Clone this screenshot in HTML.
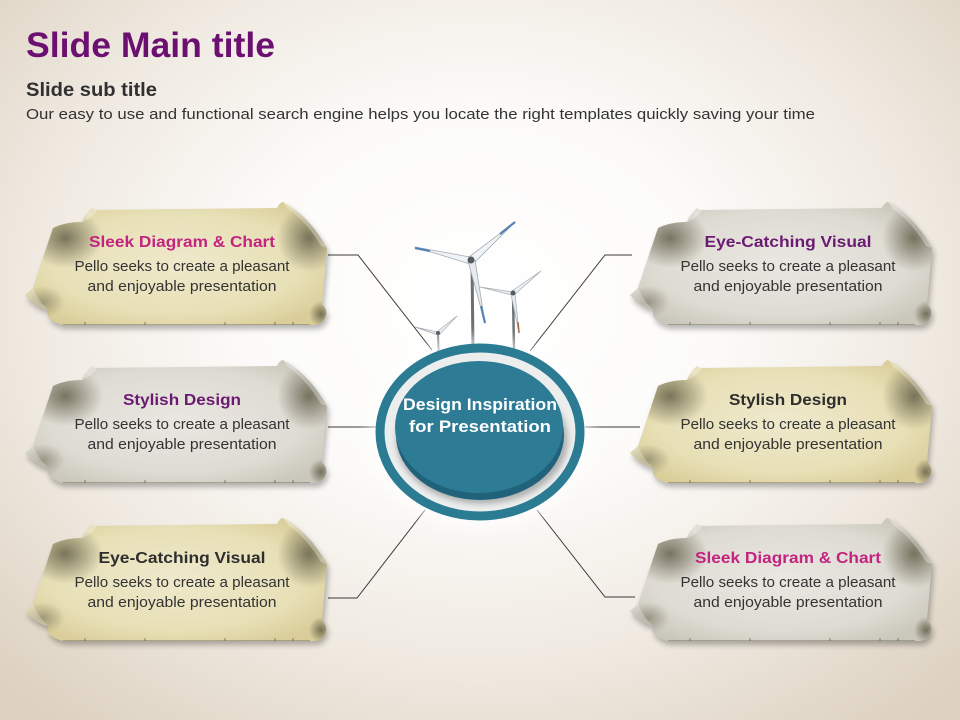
<!DOCTYPE html>
<html><head><meta charset="utf-8"><style>
html,body{margin:0;padding:0;}
body{width:960px;height:720px;overflow:hidden;background:radial-gradient(ellipse 70% 75% at 50% 42%,#ffffff 0%,#fcfbf9 35%,#efe9e0 68%,#ddd1c0 100%);}
svg{display:block;}
text{font-family:"Liberation Sans",sans-serif;}
</style></head><body>
<svg width="960" height="720" viewBox="0 0 960 720" xmlns="http://www.w3.org/2000/svg">
<defs>
  <path id="sc" d="M70,8 L252,6 Q255,0 258,0 Q284,14 302,46 L297,102 Q305,110 298,119 Q294,124 285,123 L38,123 Q26,120 23,114 L23,108 Q10,105 0,93 L8,86 L28,26 Q40,20 57,20 Q60,12 67,6 Z"/>
  <clipPath id="scClip"><use href="#sc"/></clipPath>
  <radialGradient id="yel" cx="50%" cy="50%" r="60%">
    <stop offset="0" stop-color="#efe9cc"/><stop offset="0.7" stop-color="#e7dfb5"/><stop offset="1" stop-color="#d9cd99"/>
  </radialGradient>
  <radialGradient id="gry" cx="50%" cy="50%" r="60%">
    <stop offset="0" stop-color="#e9e7e1"/><stop offset="0.7" stop-color="#dedbd3"/><stop offset="1" stop-color="#cac7bb"/>
  </radialGradient>
  <radialGradient id="shd" cx="50%" cy="50%" r="50%">
    <stop offset="0" stop-color="#5e5a44" stop-opacity="0.8"/><stop offset="1" stop-color="#5e5a44" stop-opacity="0"/>
  </radialGradient>
  <filter id="blur" x="-20%" y="-20%" width="140%" height="160%"><feGaussianBlur stdDeviation="3"/></filter>
  <filter id="blur2" x="-30%" y="-30%" width="160%" height="160%"><feGaussianBlur stdDeviation="6"/></filter>
  <g id="scrollBase">
    <use href="#sc" transform="translate(2,4)" fill="#000" opacity="0.28" filter="url(#blur)"/>
  </g>
  <g id="scrollShade">
    <g clip-path="url(#scClip)">
      <ellipse cx="40" cy="36" rx="38" ry="30" fill="url(#shd)"/>
      <ellipse cx="284" cy="36" rx="32" ry="34" fill="url(#shd)"/>
      <ellipse cx="18" cy="100" rx="22" ry="16" fill="url(#shd)" opacity="0.6"/>
      <ellipse cx="296" cy="112" rx="12" ry="13" fill="url(#shd)"/>
      <path d="M38,123 L285,123" stroke="#6e6a55" stroke-width="1.6" opacity="0.6"/>
    </g>
    <path d="M67,6 Q60,12 57,20 Q64,18 72,9 Z" fill="#fff" opacity="0.3"/>
    <path d="M258,0 Q284,14 302,46 L296,44 Q282,20 262,6 Z" fill="#fff" opacity="0.3"/>
    <path d="M0,93 L8,86 Q14,100 23,108 Q10,105 0,93 Z" fill="#fff" opacity="0.25"/>
    <path d="M60,123 l0,-3 M120,123 l0,-3 M200,123 l0,-3 M250,123 l0,-3 M268,123 l0,-3" stroke="#5e5a44" stroke-width="1" opacity="0.7"/>
  </g>
</defs>

<!-- Title area -->
<text x="26" y="57" font-size="35" font-weight="bold" fill="#6b0f70" textLength="249" lengthAdjust="spacingAndGlyphs">Slide Main title</text>
<text x="26" y="96" font-size="19" font-weight="bold" fill="#303030" textLength="131" lengthAdjust="spacingAndGlyphs">Slide sub title</text>
<text x="26" y="119" font-size="15" fill="#333" textLength="789" lengthAdjust="spacingAndGlyphs">Our easy to use and functional search engine helps you locate the right templates quickly saving your time</text>

<!-- connectors -->
<g stroke="#3a3a3a" stroke-width="1" fill="none">
  <polyline points="328,255 358,255 432,350"/>
  <polyline points="632,255 605,255 530,351"/>
  <polyline points="328,427 378,427"/>
  <polyline points="585,427 640,427"/>
  <polyline points="328,598 357,598 425,510"/>
  <polyline points="635,597 605,597 537,510"/>
</g>

<!-- turbines -->
<g stroke-linejoin="round">
  <line x1="438" y1="333" x2="439" y2="365" stroke="#8a8f94" stroke-width="2"/>
  <polygon points="438,331 457,316 439,335" fill="#eef1f4" stroke="#a4abb2" stroke-width="0.7"/>
  <polygon points="437,332 415,327 438,335" fill="#eef1f4" stroke="#a4abb2" stroke-width="0.7"/>
  <line x1="513" y1="293" x2="514" y2="350" stroke="#6f7479" stroke-width="2.5"/>
  <polygon points="512,291 541,271 514,295" fill="#eef1f4" stroke="#a4abb2" stroke-width="0.7"/>
  <polygon points="512,292 480,287 512,295" fill="#eef1f4" stroke="#a4abb2" stroke-width="0.7"/>
  <polygon points="511,294 519,333 515,293" fill="#e6eaee" stroke="#a4abb2" stroke-width="0.7"/>
  <line x1="518" y1="322" x2="519" y2="333" stroke="#a0684a" stroke-width="1.5"/>
  <line x1="472" y1="262" x2="473" y2="350" stroke="#6a6f74" stroke-width="3"/>
  <polygon points="469,257 515,222 474,263" fill="#f1f4f7" stroke="#a4abb2" stroke-width="0.8"/>
  <line x1="500" y1="234" x2="515" y2="222" stroke="#5584b3" stroke-width="2.2"/>
  <polygon points="470,257 415,247 470,264" fill="#f1f4f7" stroke="#a4abb2" stroke-width="0.8"/>
  <line x1="415" y1="248" x2="430" y2="251" stroke="#5584b3" stroke-width="2.2"/>
  <polygon points="468,261 485,323 475,260" fill="#e6ebf0" stroke="#a4abb2" stroke-width="0.8"/>
  <line x1="481" y1="306" x2="485" y2="323" stroke="#5584b3" stroke-width="2.2"/>
  <circle cx="471" cy="260" r="3.5" fill="#555a60"/>
  <circle cx="513" cy="293" r="2.5" fill="#555a60"/>
  <circle cx="438" cy="333" r="2" fill="#555a60"/>
</g>

<!-- center -->
<ellipse cx="480" cy="433" rx="112" ry="97" fill="#ffffff" opacity="0.6" filter="url(#blur2)"/>
<ellipse cx="480" cy="432" rx="100" ry="84" fill="#eceeee" stroke="#2b7b93" stroke-width="9"/>
<ellipse cx="482" cy="440" rx="86" ry="64" fill="#000" opacity="0.25" filter="url(#blur)"/>
<ellipse cx="480" cy="435" rx="84" ry="65" fill="#20627a"/>
<ellipse cx="479" cy="427" rx="84" ry="66" fill="#2d7b94"/>
<text x="480" y="410" font-size="16.5" font-weight="bold" fill="#ffffff" text-anchor="middle" textLength="154" lengthAdjust="spacingAndGlyphs">Design Inspiration</text>
<text x="480" y="432" font-size="16.5" font-weight="bold" fill="#ffffff" text-anchor="middle" textLength="142" lengthAdjust="spacingAndGlyphs">for Presentation</text>

<!-- scrolls -->
<g transform="translate(25,202)">
  <use href="#scrollBase"/><use href="#sc" fill="url(#yel)"/><use href="#scrollShade"/>
  <text x="157" y="45" font-size="16" font-weight="bold" fill="#c4237f" text-anchor="middle" textLength="186" lengthAdjust="spacingAndGlyphs">Sleek Diagram &amp; Chart</text>
  <text x="157" y="69" font-size="15" fill="#333" text-anchor="middle" textLength="215" lengthAdjust="spacingAndGlyphs">Pello seeks to create a pleasant</text>
  <text x="157" y="89" font-size="15" fill="#333" text-anchor="middle" textLength="189" lengthAdjust="spacingAndGlyphs">and enjoyable presentation</text>
</g>
<g transform="translate(25,360)">
  <use href="#scrollBase"/><use href="#sc" fill="url(#gry)"/><use href="#scrollShade"/>
  <text x="157" y="45" font-size="16" font-weight="bold" fill="#6b1a72" text-anchor="middle" textLength="118" lengthAdjust="spacingAndGlyphs">Stylish Design</text>
  <text x="157" y="69" font-size="15" fill="#333" text-anchor="middle" textLength="215" lengthAdjust="spacingAndGlyphs">Pello seeks to create a pleasant</text>
  <text x="157" y="89" font-size="15" fill="#333" text-anchor="middle" textLength="189" lengthAdjust="spacingAndGlyphs">and enjoyable presentation</text>
</g>
<g transform="translate(25,518)">
  <use href="#scrollBase"/><use href="#sc" fill="url(#yel)"/><use href="#scrollShade"/>
  <text x="157" y="45" font-size="16" font-weight="bold" fill="#2e2e2e" text-anchor="middle" textLength="167" lengthAdjust="spacingAndGlyphs">Eye-Catching Visual</text>
  <text x="157" y="69" font-size="15" fill="#333" text-anchor="middle" textLength="215" lengthAdjust="spacingAndGlyphs">Pello seeks to create a pleasant</text>
  <text x="157" y="89" font-size="15" fill="#333" text-anchor="middle" textLength="189" lengthAdjust="spacingAndGlyphs">and enjoyable presentation</text>
</g>
<g transform="translate(630,202)">
  <use href="#scrollBase"/><use href="#sc" fill="url(#gry)"/><use href="#scrollShade"/>
  <text x="158" y="45" font-size="16" font-weight="bold" fill="#6b1a72" text-anchor="middle" textLength="167" lengthAdjust="spacingAndGlyphs">Eye-Catching Visual</text>
  <text x="158" y="69" font-size="15" fill="#333" text-anchor="middle" textLength="215" lengthAdjust="spacingAndGlyphs">Pello seeks to create a pleasant</text>
  <text x="158" y="89" font-size="15" fill="#333" text-anchor="middle" textLength="189" lengthAdjust="spacingAndGlyphs">and enjoyable presentation</text>
</g>
<g transform="translate(630,360)">
  <use href="#scrollBase"/><use href="#sc" fill="url(#yel)"/><use href="#scrollShade"/>
  <text x="158" y="45" font-size="16" font-weight="bold" fill="#2e2e2e" text-anchor="middle" textLength="118" lengthAdjust="spacingAndGlyphs">Stylish Design</text>
  <text x="158" y="69" font-size="15" fill="#333" text-anchor="middle" textLength="215" lengthAdjust="spacingAndGlyphs">Pello seeks to create a pleasant</text>
  <text x="158" y="89" font-size="15" fill="#333" text-anchor="middle" textLength="189" lengthAdjust="spacingAndGlyphs">and enjoyable presentation</text>
</g>
<g transform="translate(630,518)">
  <use href="#scrollBase"/><use href="#sc" fill="url(#gry)"/><use href="#scrollShade"/>
  <text x="158" y="45" font-size="16" font-weight="bold" fill="#c4237f" text-anchor="middle" textLength="186" lengthAdjust="spacingAndGlyphs">Sleek Diagram &amp; Chart</text>
  <text x="158" y="69" font-size="15" fill="#333" text-anchor="middle" textLength="215" lengthAdjust="spacingAndGlyphs">Pello seeks to create a pleasant</text>
  <text x="158" y="89" font-size="15" fill="#333" text-anchor="middle" textLength="189" lengthAdjust="spacingAndGlyphs">and enjoyable presentation</text>
</g>
</svg>
</body></html>
